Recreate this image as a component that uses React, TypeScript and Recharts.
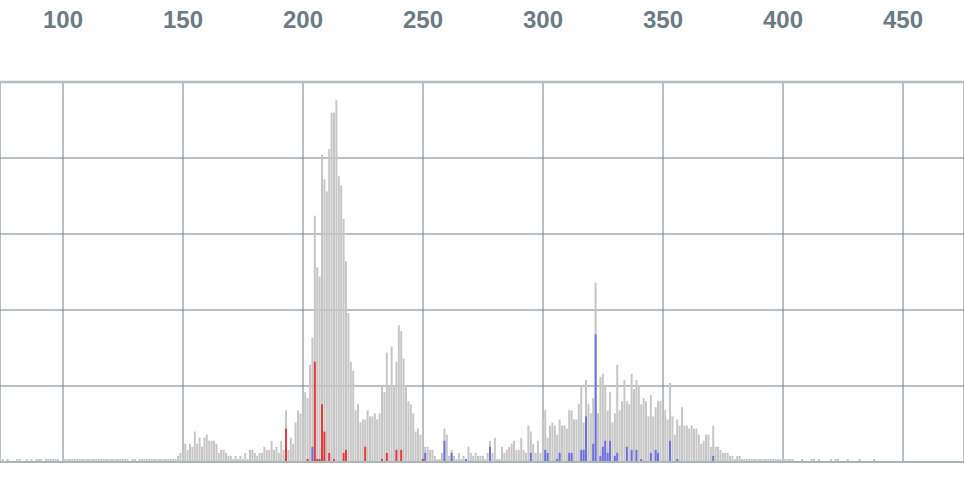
import { ComposedChart, Bar, XAxis, YAxis, CartesianGrid, ReferenceLine } from 'recharts';

// counts per integer bin, starting at BIN_START
const BIN_START = 75;
const totalCounts = [
  1, 0, 1, 0, 0, 0, 1, 1, 0, 0, // 75
  1, 0, 1, 0, 1, 1, 1, 0, 1, 1, // 85
  1, 1, 1, 1, 0, 1, 1, 1, 1, 1, // 95
  1, 1, 1, 1, 1, 1, 1, 1, 1, 1, // 105
  1, 1, 1, 1, 1, 1, 1, 1, 1, 1, // 115
  1, 1, 1, 0, 1, 1, 0, 1, 1, 1, // 125
  1, 1, 1, 1, 1, 1, 1, 1, 1, 1, // 135
  1, 1, 1, 2, 3, 4, 6, 4, 6, 5, // 145
  10, 6, 8, 5, 8, 9, 7, 7, 7, 6, // 155
  3, 4, 4, 3, 2, 2, 1, 2, 1, 2, // 165
  1, 3, 1, 4, 4, 3, 2, 3, 3, 5, // 175
  4, 4, 7, 4, 5, 3, 7, 4, 17, 4, // 185
  8, 6, 13, 17, 16, 20, 23, 21, 32, 41, // 195
  81, 64, 61, 101, 93, 89, 103, 115, 115, 119, // 205
  94, 91, 80, 66, 49, 33, 30, 17, 19, 13, // 215
  14, 14, 17, 15, 15, 16, 14, 16, 25, 23, // 225
  36, 25, 38, 25, 33, 45, 43, 34, 25, 20, // 235
  19, 16, 10, 11, 9, 1, 5, 5, 4, 4, // 245
  2, 1, 1, 3, 11, 9, 2, 4, 2, 1, // 255
  3, 1, 2, 1, 5, 3, 2, 3, 2, 2, // 265
  2, 1, 3, 7, 3, 8, 1, 1, 5, 3, // 275
  4, 5, 6, 7, 4, 4, 8, 4, 3, 12, // 285
  10, 6, 3, 7, 3, 14, 17, 8, 12, 13, // 295
  12, 9, 14, 12, 12, 11, 17, 17, 14, 14, // 305
  19, 25, 13, 27, 19, 16, 21, 59, 16, 28, // 315
  29, 25, 17, 23, 13, 16, 32, 17, 20, 27, // 325
  20, 19, 29, 24, 27, 25, 19, 21, 20, 15, // 335
  22, 15, 18, 20, 20, 14, 17, 14, 26, 15, // 345
  9, 14, 12, 18, 12, 12, 11, 12, 11, 11, // 355
  9, 6, 7, 9, 9, 5, 12, 5, 5, 4, // 365
  3, 3, 3, 2, 2, 1, 2, 2, 1, 1, // 375
  1, 1, 1, 1, 1, 1, 1, 1, 1, 1, // 385
  1, 1, 1, 1, 1, 1, 1, 1, 1, 1, // 395
  0, 0, 0, 1, 0, 0, 0, 1, 1, 0, // 405
  1, 0, 0, 0, 0, 1, 0, 1, 1, 0, // 415
  0, 0, 1, 0, 0, 0, 0, 1, 0, 0, // 425
  0, 0, 0, 1, 0, 0, // 435
];

const redBins = [193, 202, 205, 206, 207, 208, 209, 211, 213, 217, 218, 226, 233, 235, 239, 241, 250];
const redCounts = [11, 1, 33, 1, 1, 19, 10, 3, 1, 3, 4, 5, 1, 3, 4, 4, 1];

const blueBins = [
  204, 251, 259, 262, 268, 278, 295, 301, 302, 306, 307, 311, 312, 316, 317, 318, 321, 322,
  324, 325, 326, 327, 328, 330, 331, 335, 337, 339, 341, 345, 347, 348, 353, 356, 371,
];
const blueCounts = [
  5, 3, 7, 3, 1, 5, 3, 4, 3, 1, 3, 3, 3, 4, 4, 15, 6, 42,
  2, 5, 7, 3, 7, 2, 3, 5, 4, 4, 1, 3, 4, 3, 7, 1, 2,
];

const xTicks = [100, 150, 200, 250, 300, 350, 400, 450];
const yTicks = [0, 25, 50, 75, 100, 125];
const X_DOMAIN = [73.75, 475.4];

const rows = totalCounts.map((c, i) => {
  const bin = BIN_START + i;
  const ri = redBins.indexOf(bin);
  const bi = blueBins.indexOf(bin);
  return {
    bin,
    total: c > 0 ? c : null,
    red: ri >= 0 ? redCounts[ri] : null,
    blue: bi >= 0 ? blueCounts[bi] : null,
  };
});

function TopTick(props: any) {
  const { x, payload } = props;
  return (
    <text
      x={x}
      y={28}
      textAnchor="middle"
      fontFamily="'Liberation Sans', Arial, sans-serif"
      fontWeight="bold"
      fontSize={24}
      fill="#6b7b85"
    >
      {payload.value}
    </text>
  );
}

export default function App() {
  return (
    <div style={{ position: 'absolute', left: 0, top: 0, width: 964, height: 484, background: '#fff' }}>
      <ComposedChart width={964} height={484} data={rows} margin={{ top: 0, right: 0, bottom: 22, left: 0 }}>
        <XAxis
          xAxisId="main"
          dataKey="bin"
          type="number"
          orientation="top"
          domain={X_DOMAIN}
          ticks={xTicks}
          interval={0}
          height={82}
          axisLine={false}
          tickLine={false}
          tick={<TopTick />}
          allowDataOverflow
        />
        <XAxis xAxisId="red" dataKey="bin" type="number" domain={X_DOMAIN} hide allowDataOverflow />
        <XAxis xAxisId="blue" dataKey="bin" type="number" domain={X_DOMAIN} hide allowDataOverflow />
        <YAxis domain={[0, 125]} ticks={yTicks} hide />
        <Bar xAxisId="main" dataKey="total" fill="#c6c6c6" barSize={2} isAnimationActive={false} />
        <Bar xAxisId="red" dataKey="red" fill="#e8383a" barSize={2} isAnimationActive={false} />
        <Bar xAxisId="blue" dataKey="blue" fill="#6f6fdf" barSize={2} isAnimationActive={false} />
        <CartesianGrid xAxisId="main" stroke="#6f808a" strokeWidth={1} />
        <ReferenceLine xAxisId="main" y={125} stroke="#b3bec2" strokeWidth={2.5} />
        <ReferenceLine xAxisId="main" y={0} stroke="#aab5b9" strokeWidth={2} />
      </ComposedChart>
    </div>
  );
}
